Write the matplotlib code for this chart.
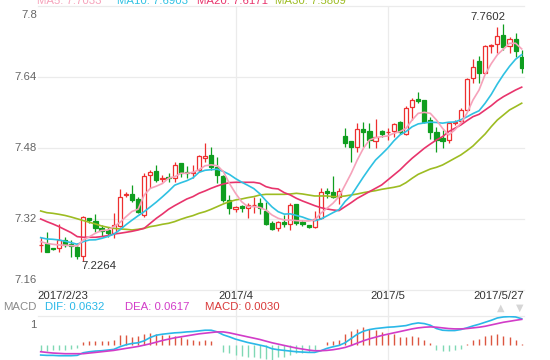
import matplotlib
matplotlib.use('Agg')
import matplotlib.pyplot as plt
import matplotlib.transforms as mtrans
from matplotlib.lines import Line2D
import numpy as np

plt.rcParams['font.family'] = ['Liberation Sans', 'DejaVu Sans']

# ---------------- data ----------------
opens = [7.2610, 7.2637, 7.2539, 7.2539, 7.2720, 7.2637, 7.2577, 7.2374, 7.3216, 7.3163,
         7.2990, 7.2953, 7.2878, 7.3043, 7.3734, 7.3756, 7.3644, 7.3291, 7.4192, 7.4282,
         7.4109, 7.4154, 7.4117, 7.4455, 7.4252, 7.4230, 7.4305, 7.4568, 7.4643, 7.4380,
         7.4177, 7.3629, 7.3426, 7.3501, 7.3456, 7.3509, 7.3554, 7.3388, 7.3118, 7.2990,
         7.3133, 7.3081, 7.3539, 7.3133, 7.3058, 7.3013, 7.3216, 7.3824, 7.3802, 7.3704,
         7.5071, 7.4958, 7.4815, 7.5221, 7.5183, 7.4966, 7.5191, 7.5153, 7.5183, 7.5386,
         7.5116, 7.5732, 7.5897, 7.5882, 7.5424, 7.5153, 7.5033, 7.4981, 7.5356, 7.5400,
         7.5660, 7.6371, 7.6761, 7.6483, 7.7099, 7.7144, 7.7347, 7.7099, 7.7249, 7.6859]
highs = [7.2800, 7.2900, 7.2554, 7.3088, 7.2802, 7.2727, 7.2652, 7.3268, 7.3223, 7.3313,
         7.3065, 7.3028, 7.3328, 7.3869, 7.3816, 7.3967, 7.3704, 7.4230, 7.4305, 7.4417,
         7.4192, 7.4230, 7.4492, 7.4470, 7.4395, 7.4417, 7.4643, 7.4905, 7.4830, 7.4590,
         7.4192, 7.3741, 7.3485, 7.3516, 7.3554, 7.3689, 7.3666, 7.3591, 7.3163, 7.3156,
         7.3291, 7.3569, 7.3545, 7.3178, 7.3073, 7.3388, 7.3892, 7.3892, 7.4169, 7.3892,
         7.5243, 7.4965, 7.5356, 7.5394, 7.5356, 7.5446, 7.5206, 7.5243, 7.5371, 7.5409,
         7.5754, 7.5919, 7.6070, 7.5890, 7.5506, 7.5281, 7.5206, 7.5394, 7.5431, 7.5694,
         7.6371, 7.6799, 7.6874, 7.7122, 7.7144, 7.7519, 7.7602, 7.7309, 7.7384, 7.7009]
lows = [7.2465, 7.2455, 7.2502, 7.2464, 7.2577, 7.2352, 7.2291, 7.2264, 7.3103, 7.2915,
        7.2825, 7.2802, 7.2765, 7.3028, 7.3704, 7.3591, 7.3328, 7.3253, 7.3892, 7.4042,
        7.4042, 7.4042, 7.4042, 7.4139, 7.4117, 7.4117, 7.4267, 7.4492, 7.4305, 7.4004,
        7.3591, 7.3313, 7.3366, 7.3366, 7.3216, 7.3328, 7.3313, 7.3065, 7.2953, 7.2938,
        7.3028, 7.2953, 7.3065, 7.3050, 7.3005, 7.3005, 7.3201, 7.3666, 7.3666, 7.3539,
        7.4830, 7.4492, 7.4718, 7.4830, 7.4793, 7.4793, 7.5056, 7.4981, 7.5041, 7.5116,
        7.5093, 7.5431, 7.5807, 7.5356, 7.5003, 7.4718, 7.4793, 7.4905, 7.5318, 7.5360,
        7.5642, 7.6258, 7.6258, 7.6483, 7.6934, 7.6934, 7.7009, 7.6934, 7.6859, 7.6483]
closes = [7.2620, 7.2464, 7.2517, 7.2727, 7.2607, 7.2592, 7.2374, 7.3238, 7.3178, 7.2990,
          7.2938, 7.2878, 7.3058, 7.3696, 7.3756, 7.3629, 7.3366, 7.4169, 7.4252, 7.4079,
          7.4124, 7.4124, 7.4410, 7.4244, 7.4230, 7.4267, 7.4620, 7.4628, 7.4380, 7.4192,
          7.3629, 7.3441, 7.3478, 7.3441, 7.3524, 7.3524, 7.3441, 7.3080, 7.2968, 7.3126,
          7.3081, 7.3509, 7.3103, 7.3081, 7.3013, 7.3208, 7.3802, 7.3794, 7.3704, 7.3824,
          7.4920, 7.4815, 7.5221, 7.5168, 7.4981, 7.5056, 7.5116, 7.5168, 7.5334, 7.5161,
          7.5694, 7.5882, 7.5867, 7.5394, 7.5153, 7.4981, 7.4966, 7.5371, 7.5386, 7.5660,
          7.6350, 7.6634, 7.6498, 7.7099, 7.7129, 7.7325, 7.7069, 7.7249, 7.6994, 7.6596]

ma5 = [7.269, 7.265, 7.263, 7.2615, 7.261, 7.260, 7.259, 7.273, 7.280, 7.288,
       7.294, 7.295, 7.303, 7.312, 7.325, 7.337, 7.342, 7.374, 7.389, 7.394,
       7.400, 7.412, 7.415, 7.423, 7.423, 7.425, 7.431, 7.440, 7.442, 7.440,
       7.427, 7.400, 7.378, 7.359, 7.348, 7.348, 7.346, 7.340, 7.329, 7.3216,
       7.3178, 7.3178, 7.3163, 7.3156, 7.3156, 7.3178, 7.3328, 7.3441, 7.3554, 7.3704,
       7.3967, 7.4230, 7.4530, 7.4793, 7.4981, 7.5033, 7.5056, 7.5071, 7.5131, 7.5168,
       7.5243, 7.5431, 7.5581, 7.5604, 7.5581, 7.5431, 7.5243, 7.5093, 7.5206, 7.5356,
       7.5581, 7.5882, 7.6107, 7.6460, 7.6700, 7.6900, 7.7030, 7.7160, 7.7160, 7.7033]
ma10 = [7.2780, 7.2750, 7.2743, 7.2728, 7.2698, 7.2668, 7.2630, 7.2690, 7.2728, 7.2731,
        7.2763, 7.2804, 7.2858, 7.2955, 7.3070, 7.3174, 7.3273, 7.3366, 7.3473, 7.3582,
        7.3701, 7.3825, 7.3961, 7.4015, 7.4063, 7.4127, 7.4252, 7.4298, 7.4311, 7.4322,
        7.4272, 7.4204, 7.4111, 7.4031, 7.3960, 7.3886, 7.3768, 7.3613, 7.3472, 7.3365,
        7.3310, 7.3317, 7.3280, 7.3244, 7.3193, 7.3161, 7.3197, 7.3269, 7.3342, 7.3412,
        7.3596, 7.3726, 7.3938, 7.4147, 7.4344, 7.4529, 7.4660, 7.4797, 7.4960, 7.5094,
        7.5171, 7.5278, 7.5343, 7.5365, 7.5383, 7.5375, 7.5360, 7.5380, 7.5386, 7.5435,
        7.5501, 7.5576, 7.5639, 7.5810, 7.6007, 7.6242, 7.6452, 7.6640, 7.6801, 7.6903]
ma20 = [7.3201, 7.3141, 7.3088, 7.3028, 7.2960, 7.2893, 7.2803, 7.2788, 7.2788, 7.2788,
        7.2803, 7.2825, 7.2863, 7.2878, 7.2900, 7.2923, 7.2953, 7.2990, 7.3103, 7.3216,
        7.3313, 7.3419, 7.3501, 7.3576, 7.3651, 7.3704, 7.3779, 7.3832, 7.3892, 7.3944,
        7.3989, 7.4019, 7.4027, 7.4027, 7.4027, 7.4027, 7.4004, 7.3929, 7.3892, 7.3877,
        7.3794, 7.3741, 7.3666, 7.3606, 7.3554, 7.3501, 7.3456, 7.3426, 7.3404, 7.3389,
        7.3479, 7.3569, 7.3666, 7.3741, 7.3817, 7.3892, 7.3967, 7.4079, 7.4192, 7.4305,
        7.4440, 7.4568, 7.4680, 7.4793, 7.4890, 7.4981, 7.5056, 7.5168, 7.5243, 7.5319,
        7.5416, 7.5506, 7.5559, 7.5657, 7.5754, 7.5867, 7.5957, 7.6032, 7.6107, 7.6171]
ma30 = [7.3381, 7.3343, 7.3328, 7.3306, 7.3280, 7.3245, 7.3205, 7.3165, 7.3126, 7.3088,
        7.3043, 7.3013, 7.2990, 7.2975, 7.2968, 7.2953, 7.2968, 7.2990, 7.3028, 7.3051,
        7.3081, 7.3103, 7.3141, 7.3193, 7.3238, 7.3276, 7.3328, 7.3366, 7.3419, 7.3479,
        7.3539, 7.3591, 7.3629, 7.3651, 7.3681, 7.3704, 7.3741, 7.3756, 7.3756, 7.3756,
        7.3756, 7.3764, 7.3779, 7.3764, 7.3741, 7.3719, 7.3719, 7.3719, 7.3704, 7.3704,
        7.3719, 7.3741, 7.3764, 7.3794, 7.3817, 7.3839, 7.3869, 7.3892, 7.3914, 7.3944,
        7.4019, 7.4117, 7.4207, 7.4267, 7.4327, 7.4365, 7.4417, 7.4492, 7.4568, 7.4643,
        7.4740, 7.4845, 7.4981, 7.5116, 7.5281, 7.5431, 7.5544, 7.5657, 7.5732, 7.5809]

dif = [-0.0238, -0.0246, -0.0246, -0.0254, -0.0254, -0.0254, -0.0246, -0.0183, -0.0159, -0.0143,
       -0.0135, -0.0119, -0.0103, -0.0040, 0.0008, 0.0040, 0.0056, 0.0103, 0.0183, 0.0238,
       0.0262, 0.0278, 0.0294, 0.0302, 0.0317, 0.0325, 0.0341, 0.0357, 0.0357, 0.0317,
       0.0246, 0.0198, 0.0143, 0.0103, 0.0063, 0.0032, 0.0000, -0.0032, -0.0087, -0.0111,
       -0.0127, -0.0143, -0.0159, -0.0167, -0.0175, -0.0175, -0.0135, -0.0079, -0.0040, -0.0008,
       0.0056, 0.0159, 0.0262, 0.0333, 0.0373, 0.0397, 0.0413, 0.0429, 0.0437, 0.0452,
       0.0468, 0.0508, 0.0532, 0.0516, 0.0476, 0.0397, 0.0357, 0.0349, 0.0349, 0.0373,
       0.0413, 0.0460, 0.0500, 0.0548, 0.0595, 0.0651, 0.0675, 0.0683, 0.0675, 0.0632]
dea = [-0.0159, -0.0175, -0.0190, -0.0198, -0.0206, -0.0206, -0.0206, -0.0206, -0.0190, -0.0175,
       -0.0159, -0.0143, -0.0127, -0.0103, -0.0079, -0.0056, -0.0032, 0.0000, 0.0032, 0.0071,
       0.0111, 0.0143, 0.0175, 0.0198, 0.0222, 0.0246, 0.0270, 0.0286, 0.0302, 0.0317,
       0.0317, 0.0294, 0.0262, 0.0230, 0.0198, 0.0167, 0.0135, 0.0095, 0.0056, 0.0024,
       -0.0008, -0.0040, -0.0071, -0.0095, -0.0119, -0.0135, -0.0135, -0.0127, -0.0111, -0.0087,
       -0.0056, -0.0008, 0.0048, 0.0103, 0.0151, 0.0190, 0.0230, 0.0262, 0.0294, 0.0325,
       0.0357, 0.0389, 0.0413, 0.0429, 0.0437, 0.0429, 0.0413, 0.0397, 0.0389, 0.0389,
       0.0397, 0.0413, 0.0429, 0.0452, 0.0484, 0.0516, 0.0548, 0.0571, 0.0595, 0.0617]
macd = [-0.0143, -0.0143, -0.0119, -0.0119, -0.0119, -0.0103, -0.0079, 0.0079, 0.0095, 0.0103,
        0.0103, 0.0103, 0.0119, 0.0238, 0.0238, 0.0198, 0.0214, 0.0278, 0.0302, 0.0278,
        0.0254, 0.0238, 0.0214, 0.0198, 0.0135, 0.0119, 0.0103, 0.0119, 0.0095, 0.0005,
        -0.0159, -0.0183, -0.0238, -0.0262, -0.0278, -0.0294, -0.0317, -0.0341, -0.0350, -0.0294,
        -0.0294, -0.0238, -0.0198, -0.0183, -0.0159, -0.0119, -0.0008, 0.0063, 0.0095, 0.0119,
        0.0278, 0.0341, 0.0397, 0.0437, 0.0381, 0.0357, 0.0317, 0.0278, 0.0262, 0.0183,
        0.0198, 0.0214, 0.0198, 0.0119, 0.0040, -0.0119, -0.0135, -0.0135, -0.0119, -0.0095,
        0.0024, 0.0119, 0.0143, 0.0214, 0.0254, 0.0278, 0.0222, 0.0183, 0.0119, 0.0030]

price_ticks = [7.16, 7.32, 7.48, 7.64, 7.8]
price_labels = ['7.16', '7.32', '7.48', '7.64', '7.8']
date_idx = [0, 32, 57, 79]
date_labels = ['2017/2/23', '2017/4', '2017/5', '2017/5/27']
macd_tick_label = '1'

# ---------------- styles ----------------
RED = '#ee2f2f'
GREEN = '#0f9e1f'
GRID = '#ebebeb'
C_MA5, C_MA10, C_MA20, C_MA30 = '#f6a2ba', '#2fc1e2', '#e8346c', '#9dbc22'
C_DIF, C_DEA = '#2ab8e8', '#d23cc8'

W, H = 550, 360
fig = plt.figure(figsize=(W / 100, H / 100), dpi=100)
L, R = 38, 524
ax = fig.add_axes([L / W, (H - 290) / H, (R - L) / W, 284 / H])
ax2 = fig.add_axes([L / W, 0, (R - L) / W, 44 / H])

o = np.array(opens); h = np.array(highs); lo = np.array(lows); c = np.array(closes)
n = len(c)
x = np.arange(n)
for a in (ax, ax2):
    a.set_xlim(-0.44, n - 1 + 0.38)
    a.axis('off')
ax.set_ylim(price_ticks[0], price_ticks[-1])
ax2.set_ylim(-0.0357, 0.0698)

# grid
for v in price_ticks:
    ax.axhline(v, color=GRID, lw=0.9, zorder=0, clip_on=False)
ax2.axhline(0.0698, color=GRID, lw=0.9, zorder=0, clip_on=False)
blend = mtrans.blended_transform_factory(ax.transData, fig.transFigure)
for i in date_idx[1:3]:
    ax.axvline(i, color=GRID, lw=0.9, zorder=0)
    ax2.axvline(i, color=GRID, lw=0.9, zorder=0)
    fig.add_artist(Line2D([i, i], [44 / H, 70 / H], transform=blend, color=GRID, lw=0.9, zorder=0))

# candles
up = c >= o
cols = [RED if u else GREEN for u in up]
ax.vlines(x, lo, h, colors=cols, lw=0.9, zorder=2)
bottom = np.minimum(o, c)
height = np.maximum(np.abs(c - o), 0.0003)
ax.bar(x, height, 0.68, bottom=bottom,
       facecolor=['white' if u else GREEN for u in up],
       edgecolor=cols, lw=0.9, zorder=3)

# moving averages
ax.plot(x, ma30, color=C_MA30, lw=1.2, zorder=4)
ax.plot(x, ma20, color=C_MA20, lw=1.2, zorder=4)
ax.plot(x, ma10, color=C_MA10, lw=1.2, zorder=4)
ax.plot(x, ma5, color=C_MA5, lw=1.2, zorder=5)

# max / min labels
imax = int(np.argmax(h)); imin = int(np.argmin(lo))
ax.annotate(f'{h[imax]:.4f}', xy=(imax, h[imax]), xytext=(1.5, 1), textcoords='offset points',
            ha='right', va='bottom', fontsize=8.2, color='#333333', zorder=6)
ax.annotate(f'{lo[imin]:.4f}', xy=(imin, lo[imin]), xytext=(-1.5, -0.5), textcoords='offset points',
            ha='left', va='top', fontsize=8.2, color='#333333', zorder=6)

# y labels
yblend = mtrans.blended_transform_factory(ax.transAxes, ax.transData)
for k, (v, lab) in enumerate(zip(price_ticks, price_labels)):
    dy = 0
    if k == 0:
        dy = 7.2
    elif k == len(price_ticks) - 1:
        dy = -6.5
    ax.annotate(lab, xy=(0, v), xycoords=yblend, xytext=(-0.8, dy), textcoords='offset points',
                ha='right', va='center', fontsize=8.2, color='#666666')

# MA legend (top, partly cut)
fs = 8.2
fig.text(37 / W, 1 - 4 / H, f'MA5: {ma5[-1]:.4f}', color=C_MA5, fontsize=fs, va='baseline')
fig.text(117 / W, 1 - 4 / H, f'MA10: {ma10[-1]:.4f}', color=C_MA10, fontsize=fs, va='baseline')
fig.text(197 / W, 1 - 4 / H, f'MA20: {ma20[-1]:.4f}', color=C_MA20, fontsize=fs, va='baseline')
fig.text(275 / W, 1 - 4 / H, f'MA30: {ma30[-1]:.4f}', color=C_MA30, fontsize=fs, va='baseline')

# date labels
for i, lab in zip(date_idx, date_labels):
    if i == date_idx[0]:
        ha, xx = 'left', -0.6
    elif i == date_idx[-1]:
        ha, xx = 'right', n - 1 + 0.45
    else:
        ha, xx = 'center', i
    ax.text(xx, 1 - 296 / H, lab, transform=blend, ha=ha, va='center', fontsize=fs, color='#333333')

# MACD legend row
ym = 1 - 307 / H
fig.text(37 / W, ym, 'MACD', color='#8a8a8a', fontsize=fs, va='center', ha='right')
fig.text(45 / W, ym, f'DIF: {dif[-1]:.4f}', color=C_DIF, fontsize=fs, va='center')
fig.text(125 / W, ym, f'DEA: {dea[-1]:.4f}', color=C_DEA, fontsize=fs, va='center')
fig.text(205 / W, ym, f'MACD: {macd[-1]:.4f}', color='#d93a3a', fontsize=fs, va='center')
fig.text(36.5 / W, 1 - 325 / H, macd_tick_label, color='#666666', fontsize=fs, va='center', ha='right')
fig.text(501 / W, 1 - 308 / H, '\u25B2', color='#d6d6d6', fontsize=7, ha='center', va='center',
         family='DejaVu Sans')
fig.text(520 / W, 1 - 308 / H, '\u25BC', color='#d6d6d6', fontsize=7, ha='center', va='center',
         family='DejaVu Sans')

# MACD panel
mv = np.array(macd)
bar_cols = ['#dc5640' if v >= 0 else '#7fd8b4' for v in mv]
ax2.vlines(x, 0, mv, colors=bar_cols, lw=1.0, zorder=2)
ax2.plot(x, dif, color=C_DIF, lw=1.2, zorder=3)
ax2.plot(x, dea, color=C_DEA, lw=1.2, zorder=3)

fig.savefig('out.png', dpi=100)
